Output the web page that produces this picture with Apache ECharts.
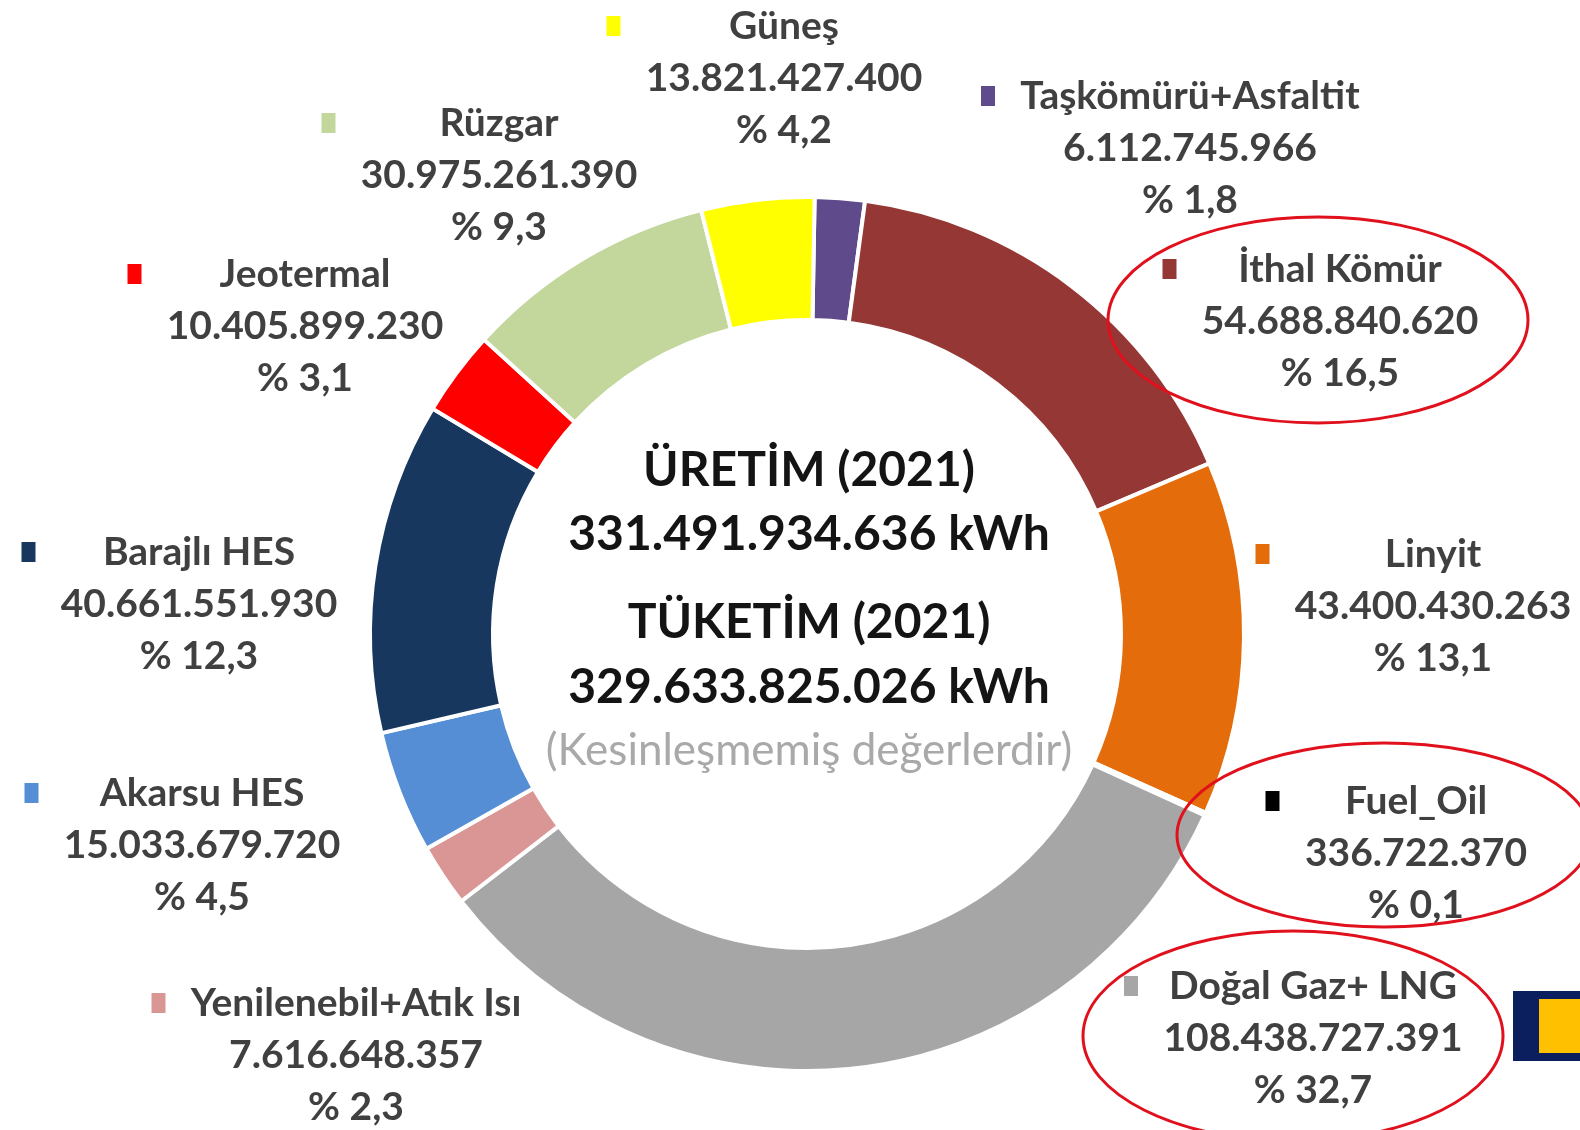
<!DOCTYPE html>
<html>
<head>
<meta charset="utf-8">
<script src="https://cdn.jsdelivr.net/npm/echarts@6/dist/echarts.min.js"></script>
<style>
  html, body { margin: 0; padding: 0; background: #fff; }
  #main { width: 1580px; height: 1130px; }
</style>
</head>
<body>
<div id="main"></div>
<script>
// kaynaklar (saat yönünde, tepeden başlayarak)
var names = ['Taşkömürü+Asfaltit', 'İthal Kömür', 'Linyit', 'Fuel_Oil', 'Doğal Gaz+ LNG',
  'Yenilenebil+Atık Isı', 'Akarsu HES', 'Barajlı HES', 'Jeotermal', 'Rüzgar', 'Güneş'];
var values = [6112745966, 54688840620, 43400430263, 336722370, 108438727391,
  7616648357, 15033679720, 40661551930, 10405899230, 30975261390, 13821427400];
var shares = [1.8, 16.5, 13.1, 0.1, 32.7, 2.3, 4.5, 12.3, 3.1, 9.3, 4.2];
var colors = ['#5f4b8b', '#953735', '#e46c0a', '#000000', '#a6a6a6',
  '#d99694', '#558ed5', '#17375e', '#ff0000', '#c3d69b', '#ffff00'];

var centerLines = ['ÜRETİM (2021)', '331.491.934.636 kWh', 'TÜKETİM (2021)', '329.633.825.026 kWh', '(Kesinleşmemiş değerlerdir)'];

// etiket kutularının yeri (orta x, üst y)
var labelPos = [[1190, 70], [1340, 243], [1433, 528], [1416, 775], [1313, 960],
  [356, 977], [202, 767], [199, 526], [305, 248], [499, 97], [784, 0]];

var labelFont = 'Lato';
var labelSize = 39;
var labelColor = '#404040';

function fmt(v) {
  return String(v).replace(/\B(?=(\d{3})+(?!\d))/g, '.');
}

var ctx = document.createElement('canvas').getContext('2d');
ctx.font = 'bold ' + labelSize + 'px ' + labelFont;
function textW(s) { return ctx.measureText(s).width; }

var data = [];
for (var i = 0; i < names.length; i++) {
  var vTxt = fmt(values[i]);
  var pTxt = '% ' + String(shares[i]).replace('.', ',');
  var w = Math.ceil(Math.max(textW(names[i]), textW(vTxt))) + 2;
  var base = { fontFamily: labelFont, fontWeight: 'bold', fontSize: labelSize, color: labelColor, lineHeight: 52 };
  data.push({
    name: names[i],
    value: values[i],
    label: {
      formatter: '{sq| }{g| }{nm|' + names[i] + '}{g2| }\n{v|' + vTxt + '}\n{p|' + pTxt + '}',
      rich: {
        sq: { width: 14, height: 14, backgroundColor: colors[i], lineHeight: 52, padding: [0, 0, 6, 0] },
        g: { width: 24, lineHeight: 52 },
        g2: { width: 38, lineHeight: 52 },
        nm: Object.assign({ width: w, align: 'center' }, base),
        v: base,
        p: base
      }
    }
  });
}

var chart = echarts.init(document.getElementById('main'), null, { renderer: 'canvas' });

var graphics = [];
var cy = [471, 535, 623, 688, 751];
for (var k = 0; k < centerLines.length; k++) {
  var last = k === centerLines.length - 1;
  graphics.push({
    type: 'text',
    x: 809,
    y: cy[k],
    z: 10,
    style: {
      text: centerLines[k],
      fill: last ? '#a9a9a9' : '#141414',
      font: (last ? 'normal ' : 'bold ') + (last ? 44 : 48) + 'px ' + labelFont,
      textAlign: 'center',
      textVerticalAlign: 'middle'
    }
  });
}
// kırmızı halkalar
graphics.push(
  { type: 'ellipse', z: 20, shape: { cx: 1318, cy: 320, rx: 210, ry: 103 }, style: { fill: 'none', stroke: '#e0101c', lineWidth: 3 } },
  { type: 'ellipse', z: 20, shape: { cx: 1384, cy: 835, rx: 207, ry: 92 }, style: { fill: 'none', stroke: '#e0101c', lineWidth: 3 } },
  { type: 'ellipse', z: 20, shape: { cx: 1293, cy: 1036, rx: 210, ry: 105 }, style: { fill: 'none', stroke: '#e0101c', lineWidth: 3 } }
);
// sağ alttaki logo parçası
graphics.push(
  { type: 'rect', z: 5, shape: { x: 1513, y: 991, width: 80, height: 70 }, style: { fill: '#0b1f5e' } },
  { type: 'rect', z: 6, shape: { x: 1539, y: 999, width: 60, height: 54 }, style: { fill: '#ffc000' } }
);

var option = {
  backgroundColor: '#ffffff',
  color: colors,
  animation: false,
  graphic: graphics,
  series: [
    {
      type: 'pie',
      center: [807, 634],
      radius: [314, 437],
      startAngle: 89,
      clockwise: true,
      avoidLabelOverlap: false,
      silent: true,
      itemStyle: { borderColor: '#ffffff', borderWidth: 4 },
      label: { show: true, position: 'outside' },
      labelLine: { show: false },
      labelLayout: function (p) {
        var pos = labelPos[p.dataIndex];
        return { x: pos[0], y: pos[1], align: 'center', verticalAlign: 'top' };
      },
      data: data
    }
  ]
};

chart.setOption(option);
</script>
</body>
</html>
